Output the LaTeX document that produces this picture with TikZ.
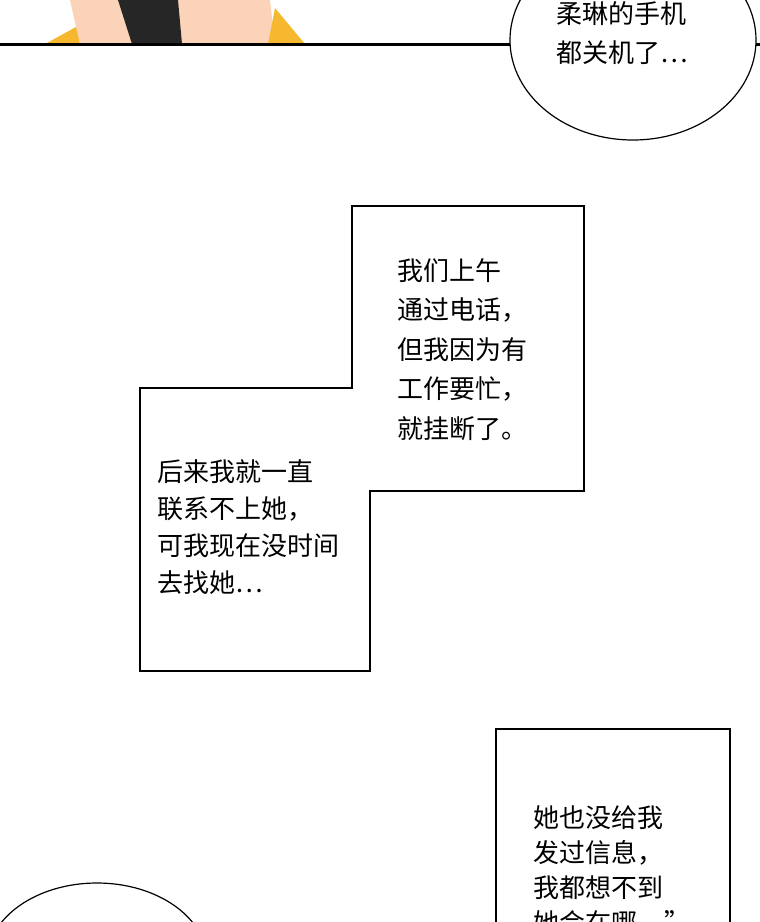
\documentclass[tikz,border=0pt]{standalone}
\usepackage{fontspec}
\usetikzlibrary{shapes.geometric}
\newfontfamily\cjk{Noto Sans CJK SC}
\definecolor{collar}{HTML}{F5B82E}
\definecolor{skin}{HTML}{FAD3B8}
\tikzset{
  panel/.style={draw, line width=2pt, fill=white},
  balloon/.style={draw, line width=1.2pt, fill=white},
  speech/.style={font=\cjk\fontsize{26}{39.5}\selectfont, align=left, anchor=north west, inner sep=0pt},
}
\begin{document}
\begin{tikzpicture}[x=1pt,y=-1pt]
\useasboundingbox (0,0) rectangle (760,922);
\clip (0,0) rectangle (760,922);
% top art above the panel line
\fill[collar] (45,44) -- (85,22) -- (95,44) -- cycle;
\fill[skin] (80,44) -- (70,0) -- (270,0) -- (275,44) -- cycle;
\fill[black!85] (132,44) -- (118,0) -- (178,0) -- (182,44) -- cycle;
\fill[collar] (268,44) -- (275,8) -- (305,44) -- cycle;
\draw[line width=3pt] (0,44) -- (760,44);
% balloons
\node[balloon, ellipse, minimum width=246, minimum height=200, inner sep=0pt] (b1) at (633,40) {};
\node[speech] (t1) at (556,1) {柔琳的手机\\都关机了…};
\node[balloon, ellipse, minimum width=220, minimum height=156] (b2) at (97,961) {};
% panels
\draw[panel] (352,206) -- (584,206) -- (584,491) -- (370,491) -- (370,671)
  -- (140,671) -- (140,388) -- (352,388) -- cycle;
\node[speech] (t2) at (397,258) {我们上午\\通过电话，\\但我因为有\\工作要忙，\\就挂断了。};
\node[speech, font=\cjk\fontsize{26}{37}\selectfont] (t3) at (157,459) {后来我就一直\\联系不上她，\\可我现在没时间\\去找她…};
\draw[panel] (496,729) -- (730,729) -- (730,930) -- (496,930) -- cycle;
\node[speech, font=\cjk\fontsize{26}{35}\selectfont] (t4) at (533,805) {她也没给我\\发过信息，\\我都想不到\\她会在哪…”};
\end{tikzpicture}
\end{document}
